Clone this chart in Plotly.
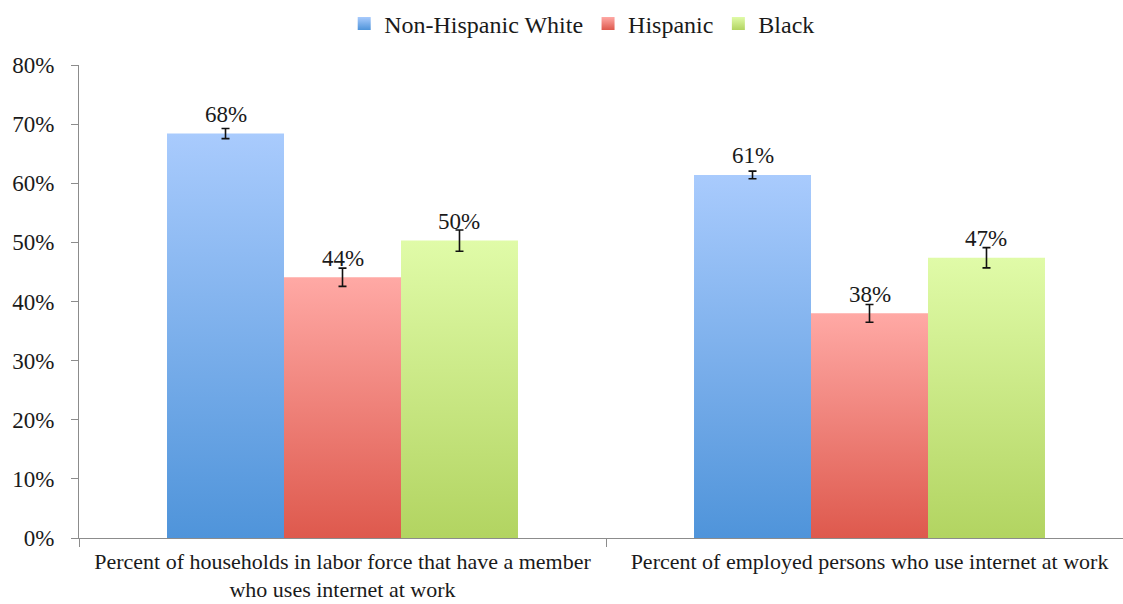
import plotly.graph_objects as go

# Data
categories = [
    "Percent of households in labor force that have a member<br>who uses internet at work",
    "Percent of employed persons who use internet at work",
]
series_names = ["Non-Hispanic White", "Hispanic", "Black"]
white_values = [68.4, 61.4]
hispanic_values = [44.1, 38.0]
black_values = [50.3, 47.4]
white_err = [0.85, 0.65]
hispanic_err = [1.55, 1.5]
black_err = [1.8, 1.72]
y_ticks = [0, 10, 20, 30, 40, 50, 60, 70, 80]

values = [white_values, hispanic_values, black_values]
errors = [white_err, hispanic_err, black_err]

# Styling: (bottom colour, top colour) of each series' vertical gradient
gradients = [
    ("#4f94da", "#a9cbfd"),
    ("#de594d", "#ffa9a5"),
    ("#b2d461", "#e0fba8"),
]
FONT = "Liberation Serif"
TEXT_COLOR = "#1a1a1a"
BAR_W = 0.222
offsets = [-BAR_W, 0.0, BAR_W]
group_pos = list(range(len(categories)))

fig = go.Figure()

# Gradient-filled bars
for s, name in enumerate(series_names):
    bottom, top = gradients[s]
    for g, v in enumerate(values[s]):
        xc = group_pos[g] + offsets[s]
        x0, x1 = xc - BAR_W / 2, xc + BAR_W / 2
        fig.add_trace(go.Scatter(
            x=[x0, x1, x1, x0, x0],
            y=[0, 0, v, v, 0],
            mode="none",
            fill="toself",
            fillgradient=dict(type="vertical", start=0, stop=v,
                              colorscale=[[0, bottom], [1, top]]),
            showlegend=False,
            hoverinfo="skip",
            legendgroup=name,
        ))

# Error bars
for s, name in enumerate(series_names):
    fig.add_trace(go.Scatter(
        x=[group_pos[g] + offsets[s] for g in range(len(categories))],
        y=values[s],
        mode="markers",
        marker=dict(size=1, opacity=0),
        error_y=dict(type="data", array=errors[s], visible=True,
                     color="#111111", thickness=1.6, width=4),
        showlegend=False,
        legendgroup=name,
        hoverinfo="skip",
    ))

# Legend entries
for s, name in enumerate(series_names):
    bottom, top = gradients[s]
    fig.add_trace(go.Scatter(
        x=[None], y=[None],
        mode="markers",
        name=name,
        legendgroup=name,
        marker=dict(symbol="square", size=13, color=top,
                    gradient=dict(type="vertical", color=bottom),
                    line=dict(width=0)),
    ))

# Value labels
for s in range(len(series_names)):
    for g, v in enumerate(values[s]):
        fig.add_annotation(
            x=group_pos[g] + offsets[s], y=v,
            text=f"{round(v)}%",
            showarrow=False, yshift=19, yanchor="middle",
            font=dict(family=FONT, size=23, color=TEXT_COLOR),
        )

fig.update_layout(
    width=1123, height=604,
    margin=dict(l=79, r=0, t=65, b=66, autoexpand=False),
    paper_bgcolor="white", plot_bgcolor="white",
    font=dict(family=FONT, size=23, color=TEXT_COLOR),
    showlegend=True,
    legend=dict(orientation="h", x=0.482, xanchor="center", y=1.087,
                yanchor="middle", font=dict(family=FONT, size=24, color=TEXT_COLOR),
                itemwidth=30, tracegroupgap=0),
    xaxis=dict(
        range=[-0.5, -0.5 + 1044 / 527],
        tickmode="array", tickvals=group_pos, ticktext=categories,
        tickfont=dict(family=FONT, size=22, color=TEXT_COLOR),
        ticks="", showgrid=False, zeroline=False,
        showline=True, linecolor="#8c8c8c", linewidth=1.2,
        ticklabelstandoff=3,
        minor=dict(tickmode="array", tickvals=[-0.5, 0.5, 1.5],
                   ticks="outside", ticklen=8, tickcolor="#8c8c8c",
                   tickwidth=1.2, showgrid=False),
        automargin=False, fixedrange=True,
    ),
    yaxis=dict(
        range=[0, 80], tickmode="array", tickvals=y_ticks,
        ticktext=[f"{t}%" for t in y_ticks],
        tickfont=dict(family=FONT, size=23, color=TEXT_COLOR),
        ticks="outside", ticklen=7, tickcolor="#8c8c8c", tickwidth=1.2,
        showgrid=False, zeroline=False,
        showline=True, linecolor="#8c8c8c", linewidth=1.2,
        ticklabelstandoff=12,
        automargin=False, fixedrange=True,
    ),
)

fig.write_html("out.html")
